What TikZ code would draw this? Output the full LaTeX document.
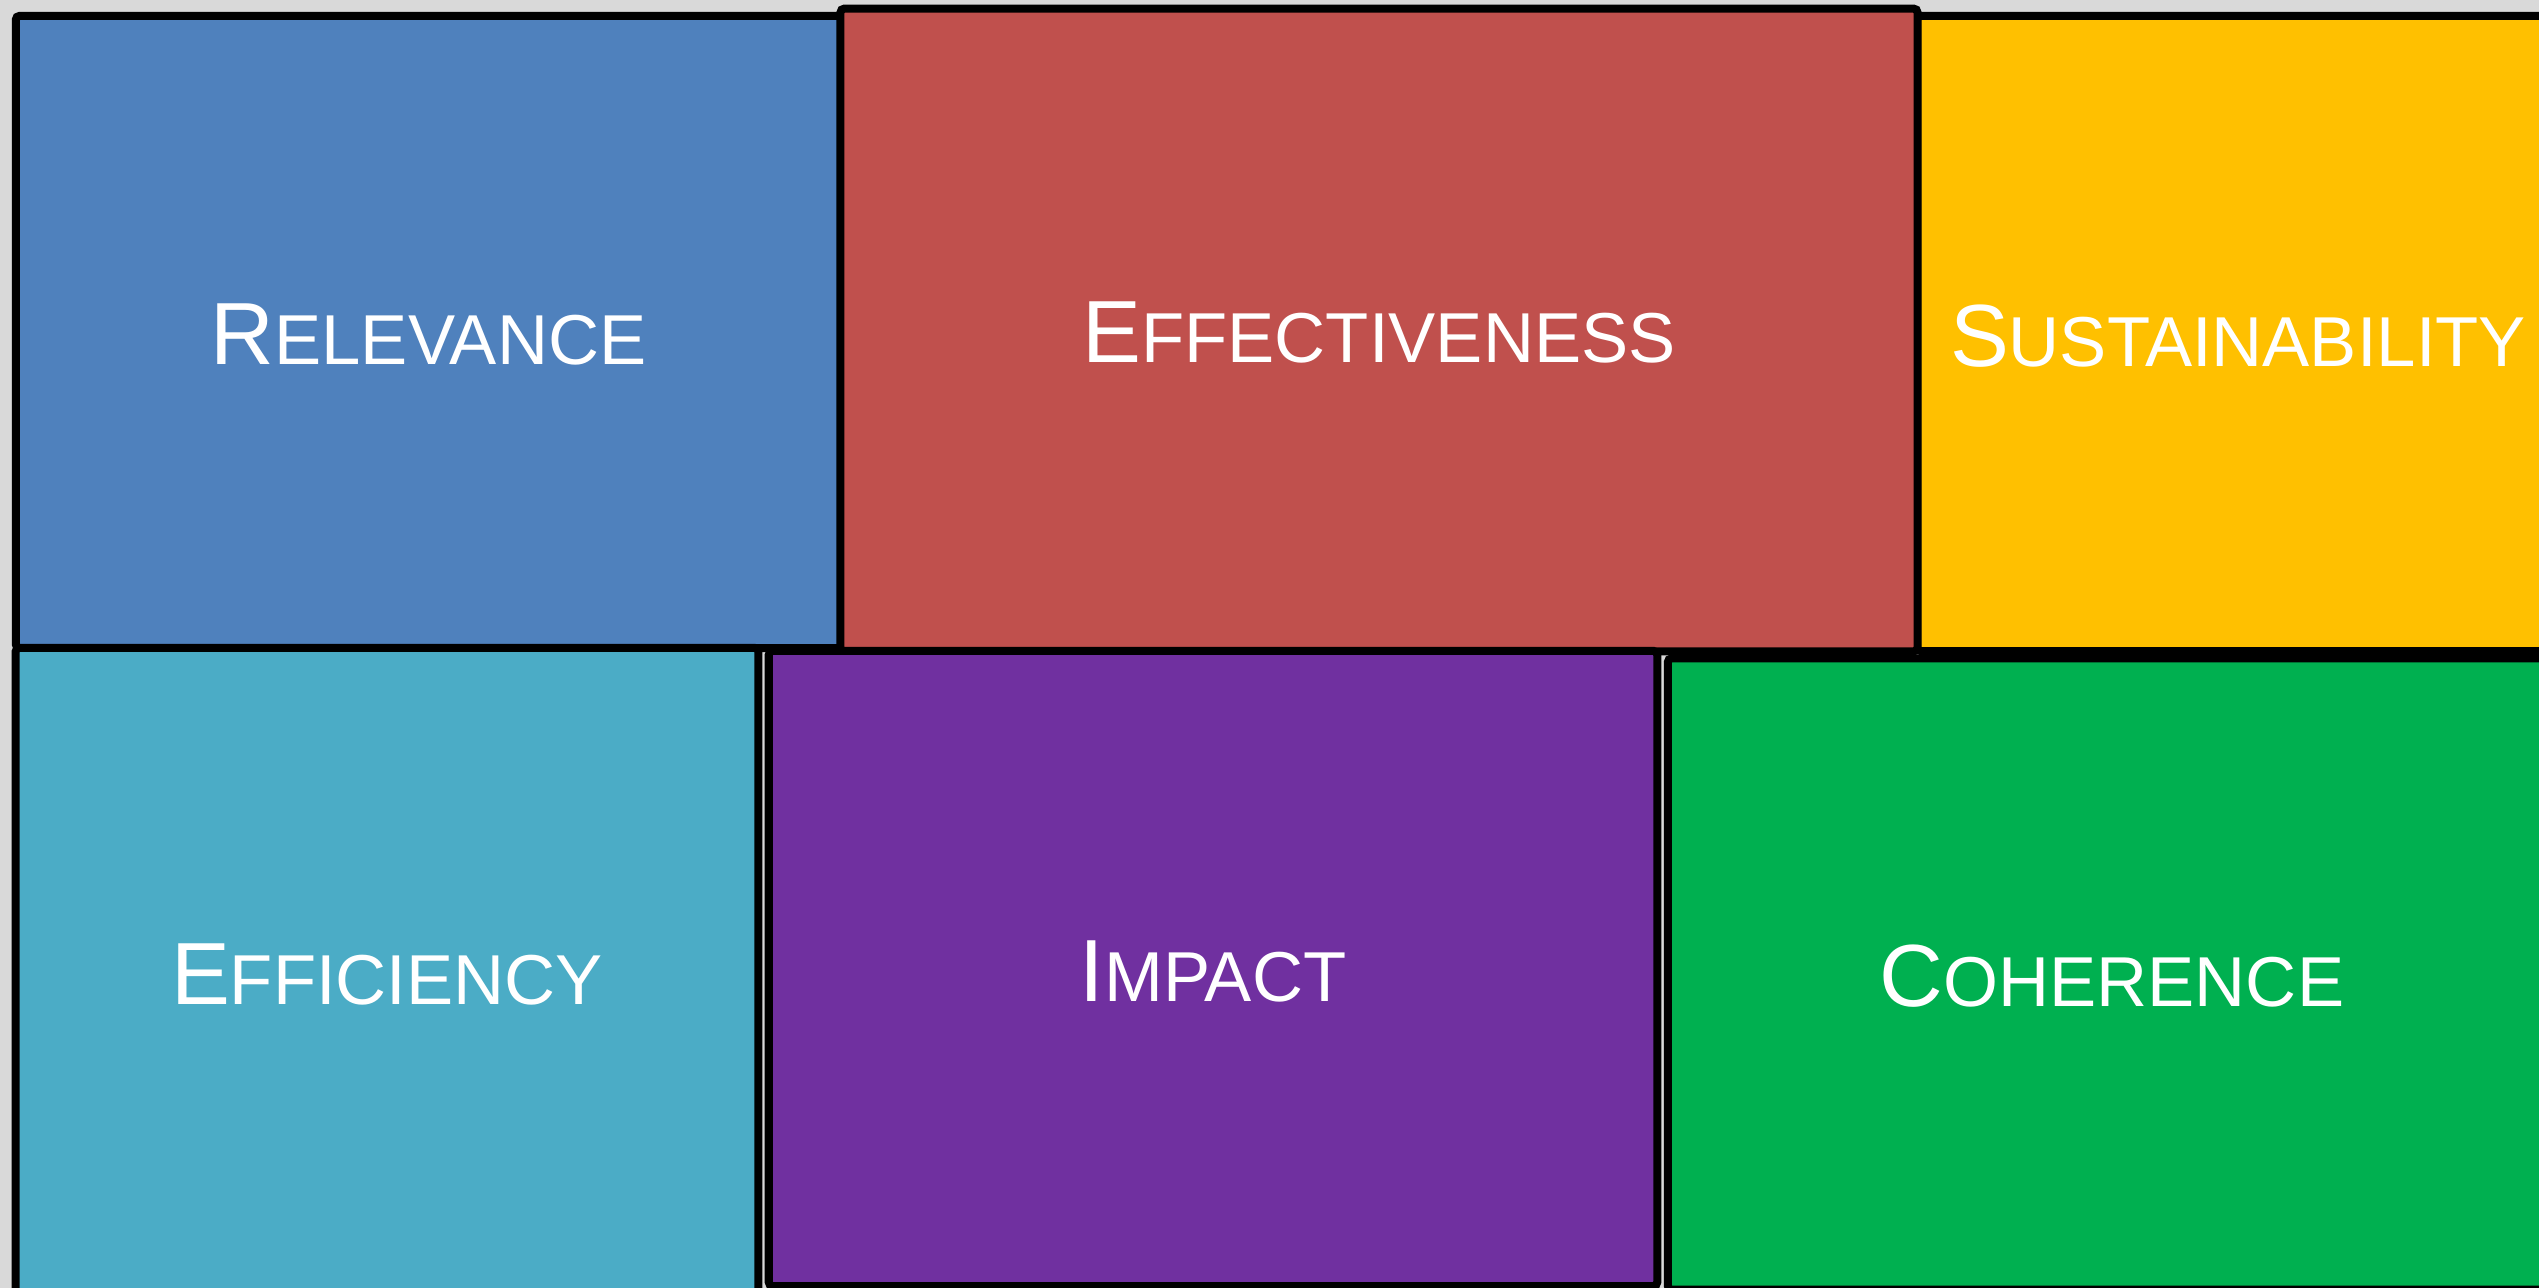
\documentclass[tikz,border=0pt]{standalone}
\usepackage{fontspec}
\setmainfont{Liberation Sans}
\definecolor{relblue}{HTML}{4F81BD}
\definecolor{effred}{HTML}{C0504D}
\definecolor{susyellow}{HTML}{FFC000}
\definecolor{efcteal}{HTML}{4BACC6}
\definecolor{imppurple}{HTML}{7030A0}
\definecolor{cohgreen}{HTML}{00B050}
\definecolor{backgray}{HTML}{D9D9D9}
\newcommand{\tilename}[2]{{\fontsize{25.1pt}{26pt}\selectfont #1}{\fontsize{20.1pt}{21pt}\selectfont #2}}
\tikzset{tile/.style={draw=black,line width=0.08cm,rounded corners=0.4mm,text=white,inner sep=0pt,text height=0.65cm,text depth=0pt}}
\begin{document}
\begin{tikzpicture}[x=0.01cm,y=-0.01cm]
    \useasboundingbox (0,0) rectangle (2539,1288);
    \clip (0,0) rectangle (2539,1288);
    \fill[backgray] (0,0) rectangle (2539,1288);
    \node[tile,fill=relblue,minimum width=8.25cm,minimum height=6.32cm] (relevance) at (428.5,332) {\tilename{R}{ELEVANCE}};
    \node[tile,fill=susyellow,minimum width=6.415cm,minimum height=6.35cm] (sustainability) at (2238,333.5) {\tilename{S}{USTAINABILITY}};
    \node[tile,fill=effred,minimum width=10.765cm,minimum height=6.425cm] (effectiveness) at (1379,330) {\tilename{E}{FFECTIVENESS}};
    \node[tile,fill=efcteal,minimum width=7.425cm,minimum height=6.48cm] (efficiency) at (387,972) {\tilename{E}{FFICIENCY}};
    \node[tile,fill=imppurple,minimum width=8.88cm,minimum height=6.35cm] (impact) at (1213,968.5) {\tilename{I}{MPACT}};
    \node[tile,fill=cohgreen,minimum width=8.88cm,minimum height=6.31cm] (coherence) at (2112,974) {\tilename{C}{OHERENCE}};
  \end{tikzpicture}
\end{document}
